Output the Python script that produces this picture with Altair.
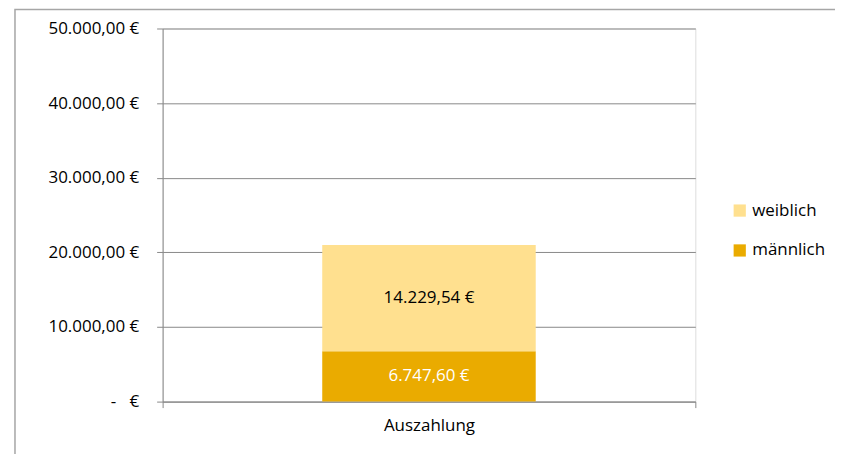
import altair as alt
import pandas as pd

categories = ["Auszahlung", "Auszahlung"]
groups = ["männlich", "weiblich"]
values = [6747.60, 14229.54]
label_texts = ["6.747,60 €", "14.229,54 €"]
y_ticks = [0, 10000, 20000, 30000, 40000, 50000]

df = pd.DataFrame({"cat": categories, "grp": groups, "val": values,
                   "lbl": label_texts, "order": [0, 1]})

FONT = "Open Sans"
FS = 17
color_scale = alt.Scale(domain=["weiblich", "männlich"], range=["#FFE08F", "#EAAB00"])

x_axis = alt.Axis(labelAngle=0, tickBand="extent", grid=False, domainColor="#898989",
                  tickColor="#898989", tickSize=6, labelPadding=10,
                  labelFontSize=FS, labelFont=FONT, labelColor="#000000")
y_axis = alt.Axis(values=y_ticks, tickSize=6, labelPadding=18,
                  domainColor="#898989", tickColor="#898989",
                  gridColor="#898989", labelFontSize=FS, labelFont=FONT,
                  labelColor="#000000",
                  labelExpr="datum.value == 0 ? '-\u00a0\u00a0\u00a0€' : format(datum.value, '$,.2f')")

base = alt.Chart(df)

bars = base.mark_bar(size=214).encode(
    x=alt.X("cat:N", title=None, scale=alt.Scale(paddingInner=0, paddingOuter=0), axis=x_axis),
    y=alt.Y("val:Q", stack="zero", title=None, scale=alt.Scale(domain=[0, 50000]), axis=y_axis),
    color=alt.Color("grp:N", scale=color_scale,
                    sort=["weiblich", "männlich"],
                    legend=alt.Legend(title=None, orient="none", legendX=570, legendY=174,
                                      symbolType="square", symbolSize=150,
                                      symbolStrokeWidth=0, labelFontSize=FS,
                                      labelFont=FONT, labelColor="#000000",
                                      rowPadding=22, labelOffset=4)),
    order=alt.Order("order:Q"),
)

texts = base.transform_stack(
    stack="val", groupby=["cat"], as_=["v0", "v1"],
    sort=[alt.SortField("order", order="ascending")]
).transform_calculate(
    mid="(datum.v0 + datum.v1) / 2"
).mark_text(font=FONT, fontSize=FS).encode(
    x=alt.X("cat:N", title=None, axis=x_axis),
    y=alt.Y("mid:Q", title=None, axis=y_axis),
    text="lbl:N",
    color=alt.Color("grp:N", scale=alt.Scale(domain=["weiblich", "männlich"],
                                             range=["#000000", "#FFFFFF"]),
                    legend=None),
)

frame = alt.Chart(df).mark_rect(fill=None, stroke="#A6A6A6", strokeWidth=1.5, clip=False).encode(
    x=alt.value(-148), x2=alt.value(900), y=alt.value(-19), y2=alt.value(600)
).transform_filter("datum.order == 0")

chart = alt.layer(frame, bars, texts).resolve_scale(color="independent").properties(
    width=534, height=374,
    autosize=alt.AutoSizeParams(type="none"),
    padding={"left": 155, "top": 20, "right": 140, "bottom": 60},
).configure_view(stroke="transparent", strokeWidth=0).configure(
    locale=alt.Locale(number=alt.NumberLocale(decimal=",", thousands=".", grouping=[3],
                                              currency=["", " €"]))
)

chart.save("out.html", embed_options={"renderer": "svg", "actions": False})
